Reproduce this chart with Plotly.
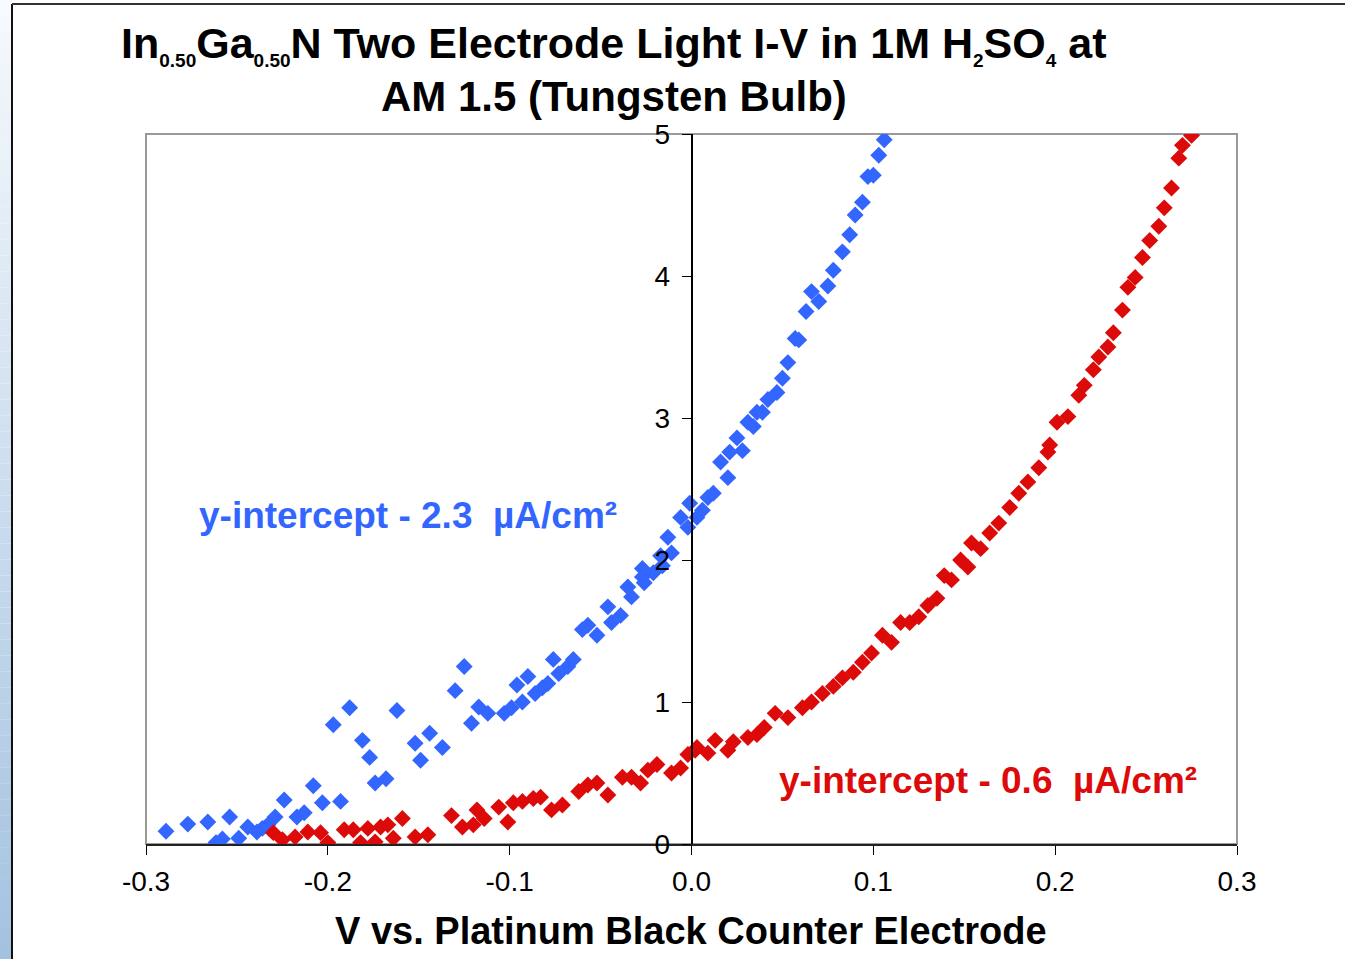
import plotly.graph_objects as go

# ---- measured I-V data (V vs. Pt black counter electrode, current density in uA/cm^2) ----
blue_v = [-0.289, -0.277, -0.266, -0.2615, -0.258, -0.254, -0.249, -0.244, -0.239, -0.236,
          -0.233, -0.229, -0.224, -0.217, -0.213, -0.208, -0.203, -0.197, -0.193, -0.188,
          -0.181, -0.177, -0.174, -0.168, -0.162, -0.152, -0.149, -0.144, -0.137, -0.130,
          -0.125, -0.121, -0.117, -0.112, -0.103, -0.099, -0.096, -0.093, -0.090, -0.086,
          -0.082, -0.079, -0.076, -0.073, -0.068, -0.065, -0.060, -0.057, -0.052, -0.046,
          -0.044, -0.039, -0.035, -0.033, -0.027, -0.027, -0.026, -0.021, -0.017, -0.016,
          -0.013, -0.011, -0.006, -0.002, -0.001, 0.003, 0.006, 0.009, 0.012, 0.016,
          0.020, 0.021, 0.025, 0.028, 0.031, 0.034, 0.036, 0.039, 0.042, 0.047,
          0.050, 0.053, 0.057, 0.059, 0.063, 0.066, 0.070, 0.075, 0.078, 0.083,
          0.087, 0.090, 0.094, 0.097, 0.100, 0.103, 0.106]
blue_i = [0.09, 0.14, 0.155, 0.01, 0.035, 0.19, 0.04, 0.12, 0.085, 0.11,
          0.135, 0.19, 0.31, 0.19, 0.22, 0.41, 0.29, 0.84, 0.30, 0.96,
          0.73, 0.61, 0.43, 0.46, 0.94, 0.71, 0.59, 0.78, 0.68, 1.08,
          1.25, 0.85, 0.965, 0.92, 0.92, 0.96, 1.12, 1.00, 1.18, 1.06,
          1.10, 1.13, 1.30, 1.20, 1.25, 1.30, 1.51, 1.54, 1.47, 1.67,
          1.56, 1.61, 1.81, 1.74, 1.94, 1.88, 1.84, 1.91, 2.03, 1.96,
          2.16, 2.05, 2.30, 2.23, 2.40, 2.30, 2.35, 2.44, 2.47, 2.69,
          2.58, 2.76, 2.86, 2.77, 2.97, 2.94, 3.04, 3.04, 3.13, 3.18,
          3.28, 3.39, 3.56, 3.55, 3.75, 3.89, 3.82, 3.93, 4.04, 4.17,
          4.29, 4.43, 4.52, 4.70, 4.71, 4.85, 4.96]

red_v = [-0.230, -0.225, -0.218, -0.211, -0.204, -0.200, -0.191, -0.186, -0.182, -0.178,
         -0.174, -0.171, -0.167, -0.164, -0.159, -0.152, -0.145, -0.132, -0.126, -0.120,
         -0.118, -0.114, -0.106, -0.101, -0.098, -0.093, -0.087, -0.083, -0.077, -0.071,
         -0.062, -0.057, -0.052, -0.046, -0.038, -0.033, -0.028, -0.024, -0.019, -0.011,
         -0.006, -0.002, 0.002, 0.003, 0.009, 0.013, 0.020, 0.023, 0.031, 0.036,
         0.040, 0.046, 0.053, 0.061, 0.066, 0.072, 0.078, 0.083, 0.089, 0.094,
         0.099, 0.105, 0.110, 0.115, 0.120, 0.125, 0.130, 0.135, 0.139, 0.143,
         0.148, 0.152, 0.154, 0.159, 0.164, 0.169, 0.175, 0.180, 0.185, 0.191,
         0.196, 0.197, 0.201, 0.207, 0.213, 0.216, 0.221, 0.224, 0.229, 0.232,
         0.237, 0.240, 0.244, 0.248, 0.252, 0.257, 0.260, 0.264, 0.268, 0.270,
         0.275]
red_i = [0.08, 0.03, 0.05, 0.085, 0.08, 0.01, 0.10, 0.10, 0.01, 0.11,
         0.015, 0.12, 0.135, 0.04, 0.18, 0.05, 0.065, 0.20, 0.12, 0.135,
         0.24, 0.18, 0.26, 0.155, 0.29, 0.30, 0.32, 0.33, 0.24, 0.275,
         0.37, 0.415, 0.43, 0.345, 0.47, 0.47, 0.43, 0.52, 0.56, 0.50,
         0.535, 0.63, 0.66, 0.68, 0.64, 0.73, 0.66, 0.72, 0.75, 0.77,
         0.82, 0.92, 0.89, 0.96, 1.00, 1.06, 1.11, 1.17, 1.21, 1.28,
         1.345, 1.47, 1.42, 1.56, 1.56, 1.60, 1.68, 1.73, 1.89, 1.86,
         2.00, 1.95, 2.12, 2.08, 2.19, 2.26, 2.37, 2.47, 2.55, 2.65,
         2.76, 2.81, 2.97, 3.01, 3.16, 3.23, 3.34, 3.43, 3.50, 3.60,
         3.76, 3.92, 3.99, 4.13, 4.25, 4.35, 4.48, 4.62, 4.83, 4.92,
         4.99]

x_ticks = [-0.3, -0.2, -0.1, 0.0, 0.1, 0.2, 0.3]
x_tick_text = ["-0.3", "-0.2", "-0.1", "0.0", "0.1", "0.2", "0.3"]
y_ticks = [0, 1, 2, 3, 4, 5]

BLUE = "#3366FF"
RED = "#DD0A0A"
FONT = "Liberation Sans, Arial, sans-serif"

W, H = 1345, 959
L, R, T, B = 146, 1237, 134, 844   # plot-area edges in page pixels


def px(xp):
    return (xp - L) / (R - L)


def py(yp):
    return (B - yp) / (B - T)


def small_sub(s):
    return '<sub><span style="font-size:19px">%s</span></sub>' % s


fig = go.Figure()
fig.add_trace(go.Scatter(x=blue_v, y=blue_i, mode="markers", name="blue",
                         marker=dict(symbol="diamond", size=13, color=BLUE, line=dict(width=0))))
fig.add_trace(go.Scatter(x=red_v, y=red_i, mode="markers", name="red",
                         marker=dict(symbol="diamond", size=13, color=RED, line=dict(width=0))))

shapes = []
# blue gradient strip along the left page edge
n = 60
top_c = (246, 249, 253)
bot_c = (164, 194, 224)
for k in range(n):
    f = k / (n - 1)
    c = tuple(round(top_c[j] + (bot_c[j] - top_c[j]) * f) for j in range(3))
    shapes.append(dict(type="rect", xref="paper", yref="paper",
                       x0=px(0), x1=px(12), y0=py(H * k / n), y1=py(H * (k + 1) / n),
                       line=dict(width=0), fillcolor="rgb(%d,%d,%d)" % c, layer="below"))
# page border lines
shapes.append(dict(type="line", xref="paper", yref="paper", x0=px(12), x1=px(12),
                   y0=py(4), y1=py(H), line=dict(color="#111111", width=2)))
shapes.append(dict(type="line", xref="paper", yref="paper", x0=px(12), x1=px(W),
                   y0=py(4), y1=py(4), line=dict(color="#333333", width=2)))
# plot-area frame
shapes.append(dict(type="rect", xref="paper", yref="paper", x0=0, x1=1, y0=0, y1=1,
                   line=dict(color="#9a9a9a", width=2), layer="below"))

title_1 = ("<b>In" + small_sub("0.50") + "Ga" + small_sub("0.50") +
           "N Two Electrode Light I-V in 1M H" + small_sub("2") + "SO" + small_sub("4") + " at</b>")
title_2 = "<b>AM 1.5 (Tungsten Bulb)</b>"

annotations = [
    dict(text=title_1, xref="paper", yref="paper", x=px(613), y=py(45),
         xanchor="center", yanchor="middle", showarrow=False,
         font=dict(family=FONT, size=43, color="#000000")),
    dict(text=title_2, xref="paper", yref="paper", x=px(614), y=py(96),
         xanchor="center", yanchor="middle", showarrow=False,
         font=dict(family=FONT, size=42, color="#000000")),
    dict(text="<b>V vs. Platinum Black Counter Electrode</b>",
         xref="paper", yref="paper", x=px(691), y=py(931), xanchor="center", yanchor="middle",
         showarrow=False, font=dict(family=FONT, size=38, color="#000000")),
    dict(text="<b>y-intercept - 2.3  µA/cm²</b>",
         xref="paper", yref="paper", x=px(408), y=py(515), xanchor="center", yanchor="middle",
         showarrow=False, font=dict(family=FONT, size=37, color=BLUE)),
    dict(text="<b>y-intercept - 0.6  µA/cm²</b>",
         xref="paper", yref="paper", x=px(988), y=py(780), xanchor="center", yanchor="middle",
         showarrow=False, font=dict(family=FONT, size=37, color=RED)),
]

fig.update_layout(
    width=W, height=H,
    margin=dict(l=L, r=W - R, t=T, b=H - B),
    paper_bgcolor="white", plot_bgcolor="white",
    showlegend=False,
    shapes=shapes,
    annotations=annotations,
    xaxis=dict(range=[-0.3, 0.3], domain=[0, 1], tickvals=x_ticks, ticktext=x_tick_text,
               ticks="outside", ticklen=9, tickwidth=1, tickcolor="#000000",
               ticklabelstandoff=2,
               showline=True, linecolor="#222222", linewidth=2, showgrid=False, zeroline=False,
               tickfont=dict(family=FONT, size=28, color="#000000")),
    yaxis=dict(range=[0, 5], anchor="free", position=0.5, side="left", tickvals=y_ticks,
               ticks="outside", ticklen=9, tickwidth=1, tickcolor="#000000",
               ticklabelstandoff=6,
               showline=True, linecolor="#000000", linewidth=1.5, showgrid=False, zeroline=False,
               tickfont=dict(family=FONT, size=28, color="#000000")),
)

fig.write_html("out.html")
